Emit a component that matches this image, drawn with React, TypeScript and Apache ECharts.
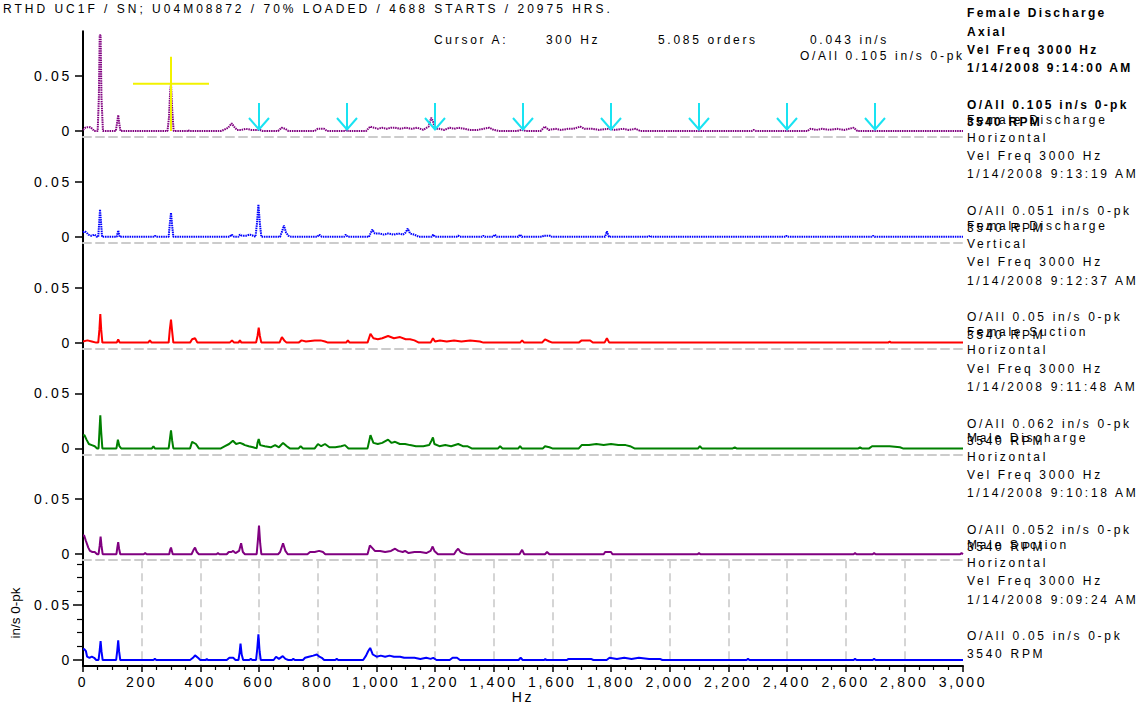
import React, { useEffect, useRef } from 'react';
import * as echarts from 'echarts';

// ---------- data ----------
const titleText = 'RTHD UC1F / SN; U04M08872 / 70% LOADED / 4688 STARTS / 20975 HRS.';
const cursorLabels = ['Cursor A:', '300 Hz', '5.085 orders', '0.043 in/s'];
const cursorOverall = 'O/All 0.105 in/s 0-pk';
const panelNames = ['Female Discharge', 'Female Discharge', 'Female Discharge', 'Female Suction', 'Male Discharge', 'Male Suction'];
const panelDirections = ['Axial', 'Horizontal', 'Vertical', 'Horizontal', 'Horizontal', 'Horizontal'];
const panelFreq = 'Vel Freq 3000 Hz';
const panelDates = ['1/14/2008 9:14:00 AM', '1/14/2008 9:13:19 AM', '1/14/2008 9:12:37 AM', '1/14/2008 9:11:48 AM', '1/14/2008 9:10:18 AM', '1/14/2008 9:09:24 AM'];
const panelOverall = ['O/All 0.105 in/s 0-pk', 'O/All 0.051 in/s 0-pk', 'O/All 0.05 in/s 0-pk', 'O/All 0.062 in/s 0-pk', 'O/All 0.052 in/s 0-pk', 'O/All 0.05 in/s 0-pk'];
const panelSpeed = '3540 RPM';
const yTickValues = [0, 0.05];
const yMinorTickValues = [0.0125, 0.025, 0.0375, 0.0625, 0.075, 0.0875];
const cursorPoint = [[300, 0.043]];
const harmonicMarkers = [600, 900, 1200, 1500, 1800, 2100, 2400, 2700];
const yAxisTitle = 'in/s 0-pk';
const xAxisTitle = 'Hz';

const spectrumFemaleDischargeAxial = [
  [0, 0.001], [8, 0.003], [15, 0.0035], [25, 0.0035], [32, 0.002], [38, 0], [50, 0], [54, 0.03], [57, 0.087], [60, 0.087], [63, 0.03], [68, 0],
  [112, 0], [116, 0.007], [120, 0.0145], [124, 0.006], [128, 0],
  [288, 0], [293, 0.012], [297, 0.035], [300, 0.043], [304, 0.02], [309, 0],
  [355, 0], [358, 0.001], [362, 0],
  [470, 0], [480, 0.001], [495, 0.003], [507, 0.007], [515, 0.004], [525, 0.001], [540, 0.001], [555, 0.002], [575, 0.001], [590, 0.001], [603, 0.001], [612, 0],
  [665, 0], [677, 0.003], [690, 0.002], [700, 0],
  [790, 0], [800, 0.002], [822, 0.002], [832, 0],
  [895, 0], [899, 0.001], [905, 0],
  [965, 0], [979, 0.004], [992, 0.003], [1005, 0.002], [1020, 0.003], [1035, 0.002], [1050, 0.003], [1064, 0.003], [1080, 0.002], [1100, 0.003], [1120, 0.002], [1140, 0.003], [1160, 0.001], [1178, 0.004], [1187, 0.012], [1193, 0.009], [1200, 0.002], [1215, 0.002], [1232, 0.001], [1250, 0.003], [1265, 0.002], [1280, 0.003], [1300, 0.002], [1320, 0.001], [1345, 0.001], [1385, 0.003], [1400, 0.001], [1420, 0],
  [1480, 0], [1495, 0.001], [1510, 0],
  [1560, 0], [1574, 0.004], [1588, 0.001], [1610, 0.002], [1630, 0.001], [1655, 0.002], [1672, 0.002], [1695, 0.004], [1710, 0.002], [1735, 0.002], [1760, 0.001], [1790, 0.002], [1815, 0.001], [1840, 0.002], [1860, 0.001], [1884, 0.002], [1900, 0],
  [2280, 0], [2286, 0.001], [2295, 0],
  [2470, 0], [2480, 0.002], [2500, 0.001], [2520, 0.002], [2545, 0.001], [2570, 0.002], [2595, 0.001], [2627, 0.003], [2640, 0],
  [3000, 0],
];

const spectrumFemaleDischargeHorizontal = [
  [0, 0.004], [6, 0.005], [12, 0.004], [18, 0.002], [28, 0.001], [40, 0.002], [47, 0],
  [52, 0], [55, 0.012], [58, 0.0248], [61, 0.015], [65, 0],
  [115, 0], [120, 0.0057], [125, 0],
  [240, 0], [245, 0.001], [250, 0],
  [292, 0], [296, 0.012], [300, 0.0218], [304, 0.01], [308, 0],
  [500, 0], [507, 0.002], [515, 0], [530, 0], [535, 0.002], [542, 0.001], [555, 0.001], [569, 0.002], [580, 0.001], [588, 0],
  [593, 0.012], [598, 0.0294], [603, 0.012], [608, 0],
  [672, 0], [680, 0.006], [685, 0.0103], [692, 0.004], [700, 0.001], [710, 0],
  [798, 0], [806, 0.002], [814, 0],
  [890, 0], [896, 0.002], [902, 0],
  [975, 0], [986, 0.0066], [995, 0.003], [1012, 0.003], [1025, 0.002], [1040, 0.003], [1060, 0.002], [1075, 0.003], [1091, 0.002], [1100, 0.004], [1107, 0.0075], [1115, 0.003], [1130, 0.002], [1145, 0],
  [1188, 0], [1194, 0.002], [1200, 0],
  [1273, 0], [1279, 0.001], [1285, 0],
  [1360, 0], [1365, 0.001], [1370, 0],
  [1398, 0], [1404, 0.002], [1410, 0],
  [1484, 0], [1490, 0.002], [1496, 0],
  [1565, 0], [1570, 0.001], [1593, 0.001], [1598, 0],
  [1780, 0], [1786, 0.005], [1793, 0],
  [1928, 0], [1933, 0.001], [1938, 0],
  [2392, 0], [2397, 0.001], [2402, 0],
  [2688, 0], [2693, 0.001], [2698, 0],
  [3000, 0],
];

const spectrumFemaleDischargeVertical = [
  [0, 0.001], [15, 0.002], [30, 0.001], [45, 0],
  [52, 0], [56, 0.012], [59, 0.026], [62, 0.012], [66, 0],
  [115, 0], [120, 0.003], [125, 0],
  [222, 0], [228, 0.002], [234, 0],
  [292, 0], [296, 0.012], [300, 0.021], [304, 0.01], [308, 0],
  [365, 0], [372, 0.003], [382, 0.004], [390, 0],
  [500, 0], [508, 0.002], [515, 0], [530, 0], [535, 0.002], [540, 0],
  [590, 0], [595, 0.006], [599, 0.0136], [603, 0.006], [608, 0],
  [670, 0], [678, 0.005], [686, 0.002], [694, 0],
  [735, 0], [745, 0.002], [760, 0.001], [790, 0.002], [810, 0.002], [825, 0.001], [835, 0],
  [897, 0], [903, 0.002], [909, 0],
  [970, 0], [980, 0.008], [990, 0.004], [1005, 0.003], [1020, 0.004], [1040, 0.006], [1060, 0.004], [1081, 0.005], [1100, 0.003], [1115, 0.003], [1130, 0.002], [1145, 0],
  [1185, 0], [1193, 0.004], [1200, 0.001], [1217, 0.002], [1240, 0.001], [1265, 0.002], [1290, 0.001], [1320, 0.002], [1353, 0.001], [1365, 0],
  [1490, 0], [1497, 0.002], [1504, 0],
  [1565, 0], [1575, 0.003], [1590, 0.001], [1600, 0],
  [1690, 0], [1700, 0.002], [1729, 0.002], [1738, 0],
  [1778, 0], [1786, 0.004], [1794, 0],
  [2745, 0], [2750, 0.001], [2755, 0],
  [3000, 0],
];

const spectrumFemaleSuctionHorizontal = [
  [0, 0.012], [5, 0.012], [12, 0.008], [20, 0.004], [30, 0.003], [40, 0.002], [48, 0],
  [53, 0], [56, 0.015], [59, 0.03], [62, 0.015], [66, 0],
  [114, 0], [119, 0.008], [124, 0.002], [130, 0],
  [235, 0], [240, 0.002], [245, 0],
  [292, 0], [296, 0.008], [300, 0.0165], [304, 0.007], [308, 0],
  [365, 0], [372, 0.006], [385, 0.004], [395, 0],
  [470, 0], [484, 0.002], [498, 0.004], [511, 0.007], [522, 0.004], [535, 0.005], [545, 0.004], [552, 0.003], [565, 0.002], [580, 0.001], [592, 0],
  [595, 0.005], [599, 0.0085], [604, 0.003], [620, 0.002], [640, 0.001], [655, 0.003], [668, 0.001], [682, 0.005], [695, 0.002], [705, 0],
  [735, 0], [742, 0.002], [750, 0],
  [790, 0], [801, 0.004], [812, 0.002], [825, 0.004], [840, 0.001], [860, 0.001], [880, 0.002], [893, 0.003], [905, 0],
  [970, 0], [980, 0.012], [990, 0.005], [1005, 0.004], [1020, 0.005], [1040, 0.008], [1052, 0.005], [1064, 0.006], [1080, 0.004], [1098, 0.004], [1115, 0.003], [1135, 0.002], [1160, 0.002], [1180, 0.003], [1188, 0.007], [1193, 0.01], [1198, 0.004], [1215, 0.002], [1235, 0.003], [1255, 0.002], [1279, 0.004], [1295, 0.002], [1310, 0.002], [1325, 0],
  [1415, 0], [1422, 0.002], [1430, 0],
  [1484, 0], [1490, 0.002], [1496, 0],
  [1568, 0], [1575, 0.002], [1590, 0.001], [1600, 0],
  [1690, 0], [1700, 0.003], [1725, 0.003], [1750, 0.004], [1775, 0.003], [1800, 0.004], [1825, 0.003], [1850, 0.003], [1865, 0.002], [1880, 0],
  [2097, 0], [2103, 0.002], [2110, 0],
  [2215, 0], [2222, 0.001], [2228, 0],
  [2643, 0], [2649, 0.001], [2655, 0],
  [2680, 0], [2690, 0.002], [2720, 0.002], [2750, 0.002], [2785, 0.001], [2795, 0],
  [3000, 0],
];

const spectrumMaleDischargeHorizontal = [
  [0, 0.017], [4, 0.017], [10, 0.012], [18, 0.006], [24, 0.003], [32, 0.002], [40, 0.002], [48, 0],
  [53, 0], [57, 0.008], [60, 0.016], [63, 0.008], [67, 0],
  [114, 0], [117, 0.006], [120, 0.011], [123, 0.005], [127, 0],
  [207, 0], [212, 0.001], [217, 0],
  [294, 0], [297, 0.004], [300, 0.006], [303, 0.003], [306, 0],
  [370, 0], [377, 0.004], [382, 0.006], [388, 0.002], [395, 0],
  [455, 0], [460, 0.001], [465, 0],
  [490, 0], [497, 0.002], [506, 0.002], [512, 0.003], [520, 0.001], [532, 0.003], [539, 0.01], [545, 0.002], [552, 0],
  [592, 0], [596, 0.012], [600, 0.026], [604, 0.01], [608, 0],
  [665, 0], [672, 0.002], [682, 0.01], [690, 0.003], [698, 0],
  [765, 0], [774, 0.002], [790, 0.002], [805, 0.003], [818, 0.002], [826, 0],
  [970, 0], [978, 0.008], [985, 0.006], [995, 0.003], [1013, 0.003], [1030, 0.002], [1050, 0.003], [1064, 0.005], [1075, 0.003], [1090, 0.002], [1098, 0.003], [1110, 0.001], [1130, 0.002], [1150, 0.002], [1170, 0.001], [1185, 0.003], [1192, 0.007], [1198, 0.003], [1210, 0],
  [1265, 0], [1272, 0.003], [1279, 0.005], [1287, 0.002], [1295, 0.001], [1310, 0],
  [1488, 0], [1497, 0.004], [1504, 0],
  [1575, 0], [1582, 0.002], [1590, 0],
  [1775, 0], [1780, 0.002], [1800, 0.002], [1805, 0],
  [2095, 0], [2100, 0.001], [2105, 0],
  [2627, 0], [2632, 0.001], [2637, 0],
  [2692, 0], [2697, 0.001], [2702, 0],
  [2990, 0], [2995, 0.001], [3000, 0],
];

const spectrumMaleSuctionHorizontal = [
  [0, 0.01], [5, 0.0097], [10, 0.008], [14, 0.003], [22, 0.002], [30, 0.003], [38, 0.002], [45, 0],
  [53, 0], [57, 0.009], [60, 0.0173], [63, 0.008], [67, 0],
  [113, 0], [117, 0.009], [120, 0.0179], [123, 0.008], [127, 0],
  [240, 0], [245, 0.001], [250, 0],
  [365, 0], [375, 0.002], [382, 0.0042], [392, 0.002], [400, 0],
  [418, 0], [422, 0.001], [426, 0],
  [490, 0], [499, 0.002], [512, 0.002], [520, 0],
  [530, 0], [534, 0.007], [537, 0.0148], [541, 0.005], [546, 0],
  [567, 0], [572, 0.001], [577, 0],
  [590, 0], [594, 0.01], [598, 0.0233], [602, 0.008], [606, 0],
  [650, 0], [658, 0.003], [668, 0.001], [681, 0.0035], [690, 0.001], [700, 0],
  [712, 0], [717, 0.001], [722, 0],
  [750, 0], [757, 0.002], [770, 0.003], [785, 0.004], [797, 0.005], [806, 0.003], [814, 0.002], [822, 0],
  [860, 0], [865, 0.001], [870, 0],
  [955, 0], [965, 0.004], [972, 0.008], [979, 0.011], [988, 0.005], [1001, 0.003], [1015, 0.004], [1030, 0.003], [1045, 0.004], [1060, 0.003], [1081, 0.003], [1095, 0.002], [1110, 0.002], [1130, 0.002], [1150, 0.001], [1170, 0.002], [1185, 0.001], [1194, 0.002], [1205, 0],
  [1250, 0], [1260, 0.002], [1275, 0.002], [1285, 0],
  [1485, 0], [1492, 0.002], [1499, 0],
  [1572, 0], [1576, 0.001], [1580, 0],
  [1650, 0], [1654, 0.001], [1690, 0.001], [1732, 0.001], [1740, 0],
  [1785, 0], [1795, 0.002], [1820, 0.001], [1845, 0.002], [1870, 0.001], [1895, 0.002], [1930, 0.001], [1967, 0.001], [1975, 0],
  [2262, 0], [2267, 0.001], [2272, 0],
  [2627, 0], [2632, 0.001], [2637, 0],
  [2692, 0], [2697, 0.001], [2702, 0],
  [3000, 0],
];

const spectra = [
  spectrumFemaleDischargeAxial,
  spectrumFemaleDischargeHorizontal,
  spectrumFemaleDischargeVertical,
  spectrumFemaleSuctionHorizontal,
  spectrumMaleDischargeHorizontal,
  spectrumMaleSuctionHorizontal,
];

// ---------- styles / layout ----------
const panelColors = ['#800080', '#0000ff', '#ff0000', '#008000', '#800080', '#0000ff'];
const panelDotted = [true, true, false, false, false, false];
const FONT = '"Liberation Sans", Arial, Helvetica, sans-serif';
const GRID_LEFT = 83;
const GRID_WIDTH = 880;
const GRID_TOP = 31.2;
const PANEL_H = 105.8;
const Y_MIN = -0.00545;
const Y_MAX = 0.09073;
const N = 6;
const LABEL_X = 967;
const BLOCK_TOP = 13.2;
const BLOCK_STEP = 106.3;
const LINE_OFFSETS = [0, 18.3, 36.6, 54.9, 91.5, 108.8];

function buildOption() {
  const grids: any[] = [];
  const xAxes: any[] = [];
  const yAxes: any[] = [];
  const series: any[] = [];
  for (let k = 0; k < N; k++) {
    const isLast = k === N - 1;
    grids.push({ left: GRID_LEFT, width: GRID_WIDTH, top: GRID_TOP + PANEL_H * k, height: PANEL_H, containLabel: false });
    xAxes.push({
      type: 'value',
      gridIndex: k,
      min: 0,
      max: 3000,
      interval: 200,
      position: 'bottom',
      name: isLast ? xAxisTitle : '',
      nameLocation: 'middle',
      nameGap: 23,
      nameTextStyle: { fontSize: 14, color: '#000', fontFamily: FONT },
      axisLine: isLast
        ? { show: true, onZero: false, lineStyle: { color: '#000', width: 2 } }
        : { show: true, onZero: false, lineStyle: { color: '#cccccc', width: 2, type: [8, 5] } },
      axisTick: { show: isLast, length: 6, lineStyle: { color: '#000', width: 1.5 } },
      minorTick: { show: isLast, splitNumber: 4, length: 4, lineStyle: { color: '#000', width: 1.2 } },
      axisLabel: {
        show: isLast,
        fontSize: 14,
        color: '#000',
        fontFamily: FONT,
        margin: 9,
        formatter: (v: number) => v.toLocaleString('en-US'),
      },
      splitLine: isLast
        ? { show: true, showMinLine: false, showMaxLine: false, lineStyle: { color: '#c8c8c8', width: 1.5, type: [8, 5] } }
        : { show: false },
      minorSplitLine: { show: false },
    });
    yAxes.push({
      type: 'value',
      gridIndex: k,
      min: Y_MIN,
      max: Y_MAX,
      position: 'left',
      axisLine: { show: true, onZero: false, lineStyle: { color: '#000', width: 2 } },
      axisTick: { show: true, customValues: yTickValues, length: isLast ? 10 : 8, lineStyle: { color: '#000', width: 1.5 } },
      axisLabel: {
        show: true,
        customValues: yTickValues,
        fontSize: 14,
        color: '#000',
        fontFamily: FONT,
        margin: 11,
        formatter: (v: number) => (v === 0 ? '0' : String(v)),
      },
      splitLine: isLast
        ? { show: true, showMinLine: false, showMaxLine: false, lineStyle: { color: '#c8c8c8', width: 1.5, type: [8, 5] } }
        : { show: false },
    });
    series.push({
      type: 'line',
      xAxisIndex: k,
      yAxisIndex: k,
      data: spectra[k],
      showSymbol: false,
      symbol: 'none',
      silent: true,
      z: 3,
      lineStyle: {
        color: panelColors[k],
        width: 2,
        type: panelDotted[k] ? [1.5, 0.8] : 'solid',
      },
    });
  }
  // minor ticks on the bottom panel's value axis
  yAxes.push({
    type: 'value',
    gridIndex: N - 1,
    min: Y_MIN,
    max: Y_MAX,
    position: 'left',
    axisLine: { show: false },
    axisTick: { show: true, customValues: yMinorTickValues, length: 6, lineStyle: { color: '#000', width: 1.2 } },
    axisLabel: { show: false },
    splitLine: { show: false },
  });

  // harmonic markers (cyan arrows) on the top panel
  series.push({
    type: 'custom',
    xAxisIndex: 0,
    yAxisIndex: 0,
    silent: true,
    z: 5,
    clip: false,
    data: harmonicMarkers.map((f) => [f, 0]),
    renderItem: (params: any, api: any) => {
      const p = api.coord([api.value(0), api.value(1)]);
      const stroke = '#19e3f2';
      return {
        type: 'group',
        children: [
          { type: 'line', shape: { x1: p[0], y1: p[1] - 28, x2: p[0], y2: p[1] - 1 }, style: { stroke, lineWidth: 2 } },
          {
            type: 'polyline',
            shape: { points: [[p[0] - 10, p[1] - 13], [p[0], p[1] - 1.5], [p[0] + 10, p[1] - 13]] },
            style: { stroke, lineWidth: 2, fill: null },
          },
        ],
      };
    },
  });
  // cursor A (yellow cross)
  series.push({
    type: 'custom',
    xAxisIndex: 0,
    yAxisIndex: 0,
    silent: true,
    z: 4,
    clip: false,
    data: cursorPoint,
    renderItem: (params: any, api: any) => {
      const p = api.coord([api.value(0), api.value(1)]);
      const base = api.coord([api.value(0), 0]);
      const stroke = '#f2f200';
      return {
        type: 'group',
        children: [
          { type: 'line', shape: { x1: p[0] - 38, y1: p[1], x2: p[0] + 38, y2: p[1] }, style: { stroke, lineWidth: 2 } },
          { type: 'line', shape: { x1: p[0], y1: p[1] - 27, x2: p[0], y2: base[1] }, style: { stroke, lineWidth: 2 } },
        ],
      };
    },
  });

  const graphics: any[] = [];
  const txt = (text: string, x: number, y: number, opts: any = {}) => ({
    type: 'text',
    x,
    y,
    silent: true,
    rotation: opts.rotation || 0,
    style: {
      text,
      fill: '#000',
      fontSize: opts.fontSize || 12,
      fontWeight: opts.bold ? 'bold' : 'normal',
      fontFamily: FONT,
      align: opts.align || 'left',
      verticalAlign: 'middle',
    },
  });
  graphics.push(txt(titleText, 3, 8.5, { fontSize: 12 }));
  const cursorX = [434, 546, 658, 810];
  cursorLabels.forEach((t, i) => graphics.push(txt(t, cursorX[i], 40)));
  graphics.push(txt(cursorOverall, 800, 56));
  for (let k = 0; k < N; k++) {
    const base = BLOCK_TOP + BLOCK_STEP * k;
    const lines = [panelNames[k], panelDirections[k], panelFreq, panelDates[k], panelOverall[k], panelSpeed];
    lines.forEach((t, i) => graphics.push(txt(t, LABEL_X, base + LINE_OFFSETS[i], { bold: k === 0 })));
  }
  graphics.push(txt(yAxisTitle, 15, 613, { fontSize: 13.5, align: 'center', rotation: Math.PI / 2 }));

  return {
    animation: false,
    backgroundColor: '#ffffff',
    grid: grids,
    xAxis: xAxes,
    yAxis: yAxes,
    series,
    graphic: { elements: graphics },
  };
}

export default function App() {
  const ref = useRef<HTMLDivElement>(null);
  useEffect(() => {
    if (!ref.current) return;
    const el = ref.current;
    const chart = echarts.init(el, undefined, { renderer: 'svg' });
    chart.setOption(buildOption() as any);
    const applySpacing = () => {
      el.querySelectorAll('text').forEach((t) => {
        const s = t.textContent || '';
        if (s === yAxisTitle) return;
        const styleAttr = (t.getAttribute('style') || '') + ' ' + (t.getAttribute('font-weight') || '');
        const isBold = styleAttr.indexOf('bold') >= 0;
        let spacing = '2.7';
        if (s === titleText) spacing = '3';
        else if (isBold) spacing = '2.3';
        t.setAttribute('letter-spacing', spacing);
      });
    };
    applySpacing();
    chart.on('finished', applySpacing);
    const timer = setTimeout(applySpacing, 50);
    return () => {
      clearTimeout(timer);
      chart.dispose();
    };
  }, []);
  return (
    <div
      ref={ref}
      style={{ position: 'fixed', left: 0, top: 0, width: 1139, height: 709, background: '#fff' }}
    />
  );
}
